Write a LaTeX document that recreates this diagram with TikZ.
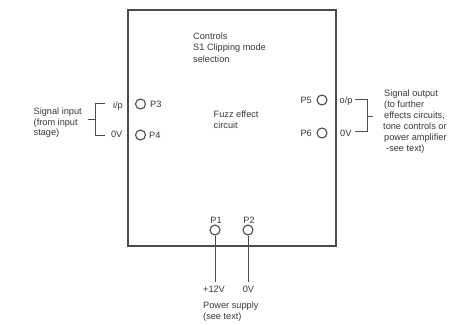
\documentclass[tikz,border=0pt]{standalone}
\usepackage{fontspec}
\setmainfont{Liberation Sans}
\definecolor{ink}{rgb}{0.22,0.22,0.22}
\definecolor{wire}{rgb}{0.30,0.30,0.30}
\begin{document}
\begin{tikzpicture}[x=1pt,y=-1pt,
  lbl/.style={inner sep=0pt,text=ink,font=\fontsize{9.2}{11}\selectfont},
  pin/.style={circle,draw=wire,line width=1.1pt,minimum size=10pt,inner sep=0pt},
  ln/.style={draw=wire,line width=1pt}]
\useasboundingbox (0,0) rectangle (457,324);
% main box
\draw[ln,line width=1.2pt] (128,10) rectangle (336,246);
% pins
\node[pin] (p3) at (140.5,104) {};
\node[pin] (p4) at (140.5,135) {};
\node[pin] (p5) at (322,100) {};
\node[pin] (p6) at (322,133) {};
\node[pin] (p1) at (215,230) {};
\node[pin] (p2) at (248,230) {};
% pin labels
\node[lbl,anchor=base west] (lp3) at (150,107.5) {P3};
\node[lbl,anchor=base west] (lp4) at (149,138.5) {P4};
\node[lbl,anchor=base east] (lp5) at (312,103.5) {P5};
\node[lbl,anchor=base east] (lp6) at (312,136.5) {P6};
\node[lbl,anchor=base] (lp1) at (216,223) {P1};
\node[lbl,anchor=base] (lp2) at (249,223) {P2};
% controls text
\node[lbl,anchor=base west] (c1) at (193,39) {Controls};
\node[lbl,anchor=base west] (c2) at (193,50.5) {S1 Clipping mode};
\node[lbl,anchor=base west] (c3) at (193,62) {selection};
% fuzz text
\node[lbl,anchor=base west] (f1) at (213.5,117) {Fuzz effect};
\node[lbl,anchor=base west] (f2) at (213.5,128) {circuit};
% input side
\node[lbl,anchor=base east] (ip) at (123,108) {i/p};
\node[lbl,anchor=base east] (iz) at (122.5,137.5) {0V};
\coordinate (lbt) at (105,103);
\coordinate (lbb) at (105,135);
\coordinate (lbm) at (95,119);
\coordinate (lbx) at (88,119);
\draw[ln] (lbt) -- (95,103) -- (95,135) -- (lbb);
\draw[ln] (lbm) -- (lbx);
\node[lbl,anchor=base west] (si1) at (33.5,114) {Signal input};
\node[lbl,anchor=base west] (si2) at (33.5,125) {(from input};
\node[lbl,anchor=base west] (si3) at (33.5,135.5) {stage)};
% output side
\node[lbl,anchor=base west] (op) at (339.5,103) {o/p};
\node[lbl,anchor=base west] (oz) at (340,136) {0V};
\coordinate (rbt) at (355,99.5);
\coordinate (rbb) at (355,131.5);
\coordinate (rbm) at (367,116);
\coordinate (rbx) at (373,116);
\draw[ln] (rbt) -- (367,99.5) -- (367,131.5) -- (rbb);
\draw[ln] (rbm) -- (rbx);
\node[lbl,anchor=base west] (so1) at (384,96.5) {Signal output};
\node[lbl,anchor=base west] (so2) at (384,107.5) {(to further};
\node[lbl,anchor=base west] (so3) at (384,118.5) {effects circuits,};
\node[lbl,anchor=base west] (so4) at (383,129.5) {tone controls or};
\node[lbl,anchor=base west] (so5) at (384,140.5) {power amplifier};
\node[lbl,anchor=base west] (so6) at (386,151.5) {-see text)};
% power supply
\coordinate (e1) at (215,282);
\coordinate (e2) at (248,282);
\draw[ln] (p1.south) -- (e1);
\draw[ln] (p2.south) -- (e2);
\node[lbl,anchor=base] (v12) at (214,292) {+12V};
\node[lbl,anchor=base] (v0) at (248.5,292) {0V};
\node[lbl,anchor=base west] (ps1) at (203,308) {Power supply};
\node[lbl,anchor=base west] (ps2) at (203,319) {(see text)};
\end{tikzpicture}
\end{document}
